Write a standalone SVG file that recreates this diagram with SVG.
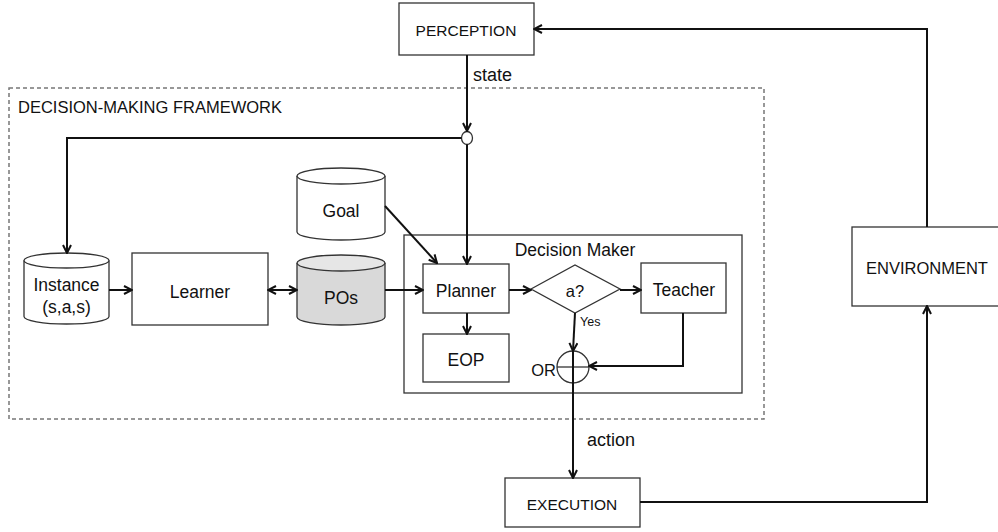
<svg xmlns="http://www.w3.org/2000/svg" width="998" height="532" viewBox="0 0 998 532">
<style>
  .box{fill:#fff;stroke:#333;stroke-width:1.3}
  .t{font-family:"Liberation Sans",Arial,sans-serif;font-size:17.5px;fill:#111;text-anchor:middle;dominant-baseline:central}
  .u{font-size:15.5px}
  .c{fill:none;stroke:#111;stroke-width:2}
  .frame{fill:none;stroke:#777;stroke-width:1.5;stroke-dasharray:4,3}
</style>
<defs>
  <marker id="ah" viewBox="0 0 10 10" refX="9" refY="5" markerWidth="10" markerHeight="10" markerUnits="userSpaceOnUse" orient="auto-start-reverse">
    <path d="M1,1 L9,5 L1,9" fill="none" stroke="#111" stroke-width="2"/>
  </marker>
</defs>
<rect width="998" height="532" fill="#fff"/>

<g id="framework">
  <rect class="frame" x="9" y="88" width="755" height="331"/>
  <text class="t" x="18" y="107" style="text-anchor:start;font-size:16.5px">DECISION-MAKING FRAMEWORK</text>
</g>

<g id="perception">
  <rect class="box" x="399" y="3" width="135" height="52"/>
  <text class="t u" x="466" y="30">PERCEPTION</text>
</g>

<g id="environment">
  <rect class="box" x="852" y="227" width="150" height="79"/>
  <text class="t" x="927" y="268" style="font-size:16.5px">ENVIRONMENT</text>
</g>

<g id="execution">
  <rect class="box" x="505" y="478" width="135" height="49"/>
  <text class="t u" x="572" y="504">EXECUTION</text>
</g>

<g id="junction">
  <ellipse cx="467" cy="138" rx="5.5" ry="6.5" fill="#fff" stroke="#333" stroke-width="1.3"/>
</g>

<g id="instance">
  <path class="box" d="M24,260.5 V316.5 A42.5,7.5 0 0 0 109,316.5 V260.5"/>
  <ellipse class="box" cx="66.5" cy="260.5" rx="42.5" ry="7.5"/>
  <text class="t" x="66.5" y="285">Instance</text>
  <text class="t" x="66.5" y="307">(s,a,s)</text>
</g>

<g id="learner">
  <rect class="box" x="132" y="253" width="136" height="72"/>
  <text class="t" x="200" y="292">Learner</text>
</g>

<g id="goal">
  <path class="box" d="M297,176 V232 A44,8 0 0 0 385,232 V176"/>
  <ellipse class="box" cx="341" cy="176" rx="44" ry="8"/>
  <text class="t" x="341" y="211">Goal</text>
</g>

<g id="pos">
  <path d="M297,263 V317 A44,8 0 0 0 385,317 V263" fill="#d9d9d9" stroke="#333" stroke-width="1.3"/>
  <ellipse cx="341" cy="263" rx="44" ry="8" fill="#e6e6e6" stroke="#333" stroke-width="1.3"/>
  <text class="t" x="341" y="298">POs</text>
</g>

<g id="decision-maker">
  <rect class="box" x="404" y="235" width="338" height="158"/>
  <text class="t" x="575" y="250">Decision Maker</text>
</g>

<g id="planner">
  <rect class="box" x="423" y="264" width="86" height="49"/>
  <text class="t" x="466" y="291">Planner</text>
</g>

<g id="eop">
  <rect class="box" x="423" y="334" width="86" height="48"/>
  <text class="t" x="466" y="360">EOP</text>
</g>

<g id="decision">
  <polygon class="box" points="531,289 575,265 620,289 575,313"/>
  <text class="t" x="575" y="291" style="font-size:16.5px">a?</text>
</g>

<g id="teacher">
  <rect class="box" x="641" y="263" width="85" height="50"/>
  <text class="t" x="684" y="290">Teacher</text>
</g>

<g id="or">
  <circle cx="573" cy="367" r="16" fill="#fff" stroke="#333" stroke-width="1.3"/>
  <line x1="557" y1="367" x2="589" y2="367" stroke="#333" stroke-width="1.3"/>
  <text class="t" x="556" y="370" style="text-anchor:end;font-size:16.5px">OR</text>
</g>

<g id="connectors">
  <path class="c" d="M467,55 V131" marker-end="url(#ah)"/>
  <path class="c" d="M467,144.5 V264" marker-end="url(#ah)"/>
  <path class="c" d="M461.5,138 H67 V253" marker-end="url(#ah)"/>
  <path class="c" d="M927,227 V29 H534" marker-end="url(#ah)"/>
  <path class="c" d="M640,502 H927 V306" marker-end="url(#ah)"/>
  <path class="c" d="M109,290 H132" marker-end="url(#ah)"/>
  <path class="c" d="M268,290 H297" marker-start="url(#ah)" marker-end="url(#ah)"/>
  <path class="c" d="M385,290 H423" marker-end="url(#ah)"/>
  <path class="c" d="M385,206 L437,263" marker-end="url(#ah)"/>
  <path class="c" d="M467,313 V334" marker-end="url(#ah)"/>
  <path class="c" d="M509,290 H531" marker-end="url(#ah)"/>
  <path class="c" d="M620,290 H641" marker-end="url(#ah)"/>
  <path class="c" d="M575,313 L573,351" marker-end="url(#ah)"/>
  <path class="c" d="M683,313 V366 H589" marker-end="url(#ah)"/>
  <path class="c" d="M573,351 V478" marker-end="url(#ah)"/>
  <text class="t" x="473" y="75" style="text-anchor:start;font-size:18px">state</text>
  <text class="t" x="587" y="440" style="text-anchor:start;font-size:18px">action</text>
  <text class="t" x="580" y="322" style="text-anchor:start;font-size:12.5px">Yes</text>
</g>
</svg>
